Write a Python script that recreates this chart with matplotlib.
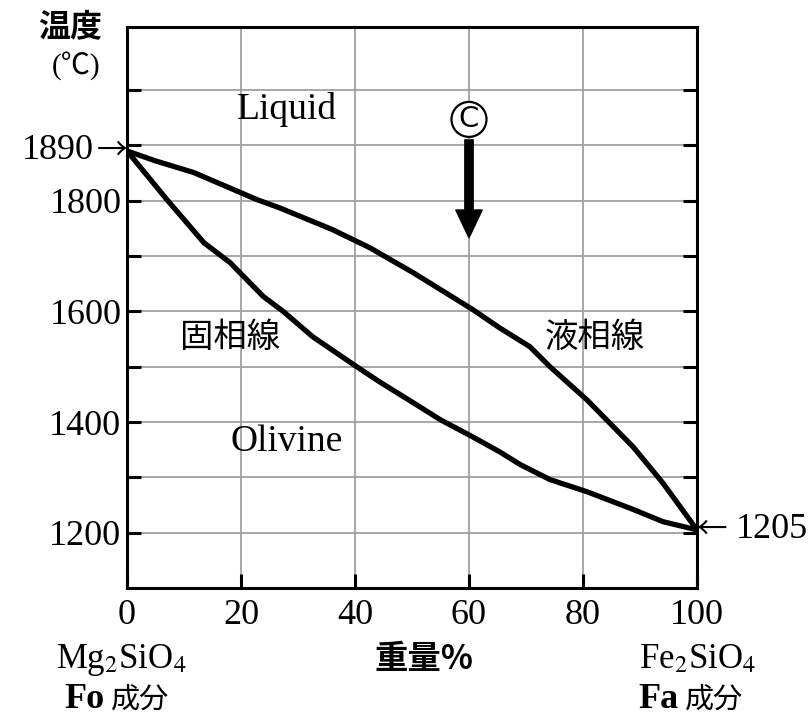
import matplotlib
matplotlib.use("Agg")
import matplotlib.pyplot as plt

# liquidus / solidus (wt% Fa, deg C)
x_liq = [0, 5, 11.7, 22.8, 26.8, 36, 42.6, 50.2, 60.7, 65.4, 70.7, 74.2, 80.7, 88.8, 94, 100]
t_liq = [1890, 1872, 1851, 1802, 1787, 1748, 1715, 1670, 1603, 1570, 1536, 1500, 1440, 1355, 1290, 1205]
x_sol = [0, 7, 13.5, 18.1, 23.9, 27.4, 32.6, 40.3, 44.4, 50.2, 55, 60.5, 65.4, 69, 74.2, 80.7, 88.8, 94, 100]
t_sol = [1890, 1802, 1724, 1688, 1627, 1600, 1554, 1500, 1472, 1435, 1404, 1374, 1346, 1323, 1296, 1274, 1242, 1220, 1205]

x_ticks = [0, 20, 40, 60, 80, 100]
y_labels = [1200, 1400, 1600, 1800]
y_grid = [1200, 1300, 1400, 1500, 1600, 1700, 1800, 1900, 2000]
t_start, t_end = 1890, 1205

serif = ["Liberation Serif", "DejaVu Serif"]
cjk = ["Noto Sans CJK JP", "DejaVu Sans"]
plt.rcParams["mathtext.fontset"] = "stix"

fig = plt.figure(figsize=(8.12, 7.19), dpi=100)
ax = fig.add_axes([127 / 812, 1 - 588 / 719, 570 / 812, 561 / 719])
ax.set_xlim(0, 100)
ax.set_ylim(1100, 2114)

# grid
for g in y_grid:
    ax.axhline(g, color="#a0a0a0", lw=1.3, zorder=0)
for g in x_ticks[1:-1]:
    ax.axvline(g, color="#a0a0a0", lw=1.3, zorder=0)

ax.plot(x_liq, t_liq, color="black", lw=3.8, solid_joinstyle="round", zorder=3)
ax.plot(x_sol, t_sol, color="black", lw=3.8, solid_joinstyle="round", zorder=3)

for s in ax.spines.values():
    s.set_linewidth(2.2)

ax.set_xticks(x_ticks)
ax.set_xticklabels([str(v) for v in x_ticks], family=serif, fontsize=26)
ax.set_yticks(y_labels)
ax.set_yticklabels([str(v) for v in y_labels], family=serif, fontsize=26)
ax.set_yticks(y_grid, minor=True)
ax.tick_params(axis="both", which="both", direction="in", length=10, width=2.2,
               right=True, top=False)
ax.tick_params(axis="x", pad=8)
ax.tick_params(axis="y", pad=4)

# region labels
ax.text(28, 1964, "Liquid", family=serif, fontsize=27, ha="center", va="center")
ax.text(28, 1364, "Olivine", family=serif, fontsize=27, ha="center", va="center")
ax.text(18, 1553, "固相線", family=cjk, fontsize=24, ha="center", va="center")
ax.text(82, 1553, "液相線", family=cjk, fontsize=24, ha="center", va="center")

# circled C with down arrow
ax.text(60, 1947, "C", family=["DejaVu Sans"], fontsize=21, ha="center", va="center",
        bbox=dict(boxstyle="circle,pad=0.12", fc="white", ec="black", lw=1.6), zorder=5)
ax.annotate("", xy=(60, 1733), xytext=(60, 1910),
            arrowprops=dict(arrowstyle="simple,head_length=2.0,head_width=1.9,tail_width=0.6",
                            fc="black", ec="black", shrinkA=0, shrinkB=0), zorder=4)

# end-point markers
ax.text(0, t_start, "→", family=cjk, fontsize=22, ha="right", va="center", clip_on=False)
ax.annotate(str(t_start), xy=(0, t_start), xytext=(-24, 0), textcoords="offset points",
            family=serif, fontsize=26, ha="right", va="center", annotation_clip=False)
ax.text(100, t_end, "←", family=cjk, fontsize=22, ha="left", va="center", clip_on=False)
ax.annotate(str(t_end), xy=(100, t_end), xytext=(28, 0), textcoords="offset points",
            family=serif, fontsize=26, ha="left", va="center", annotation_clip=False)

# y-axis title
fig.text(70 / 812, 1 - 27 / 719, "温度", family=cjk, fontsize=23, fontweight="bold",
         ha="center", va="center")
fig.text(76 / 812, 1 - 66 / 719, "(℃)", family=["Liberation Serif", "Noto Sans CJK JP"],
         fontsize=21, ha="center", va="center")

# x-axis labels
fig.text(121 / 812, 1 - 660 / 719, "Mg$_2$SiO$_4$", family=serif, fontsize=25,
         ha="center", va="center")
fig.text(698 / 812, 1 - 660 / 719, "Fe$_2$SiO$_4$", family=serif, fontsize=25,
         ha="center", va="center")
fig.text(424 / 812, 1 - 659 / 719, "重量%", family=cjk, fontsize=24, fontweight="bold",
         ha="center", va="center")
fig.text(105 / 812, 1 - 700 / 719, "Fo", family=serif, fontsize=26, fontweight="bold",
         ha="right", va="center")
fig.text(111 / 812, 1 - 700 / 719, "成分", family=cjk, fontsize=21, ha="left", va="center")
fig.text(679 / 812, 1 - 700 / 719, "Fa", family=serif, fontsize=26, fontweight="bold",
         ha="right", va="center")
fig.text(685 / 812, 1 - 700 / 719, "成分", family=cjk, fontsize=21, ha="left", va="center")

fig.savefig("out.png", dpi=100, facecolor="white")
